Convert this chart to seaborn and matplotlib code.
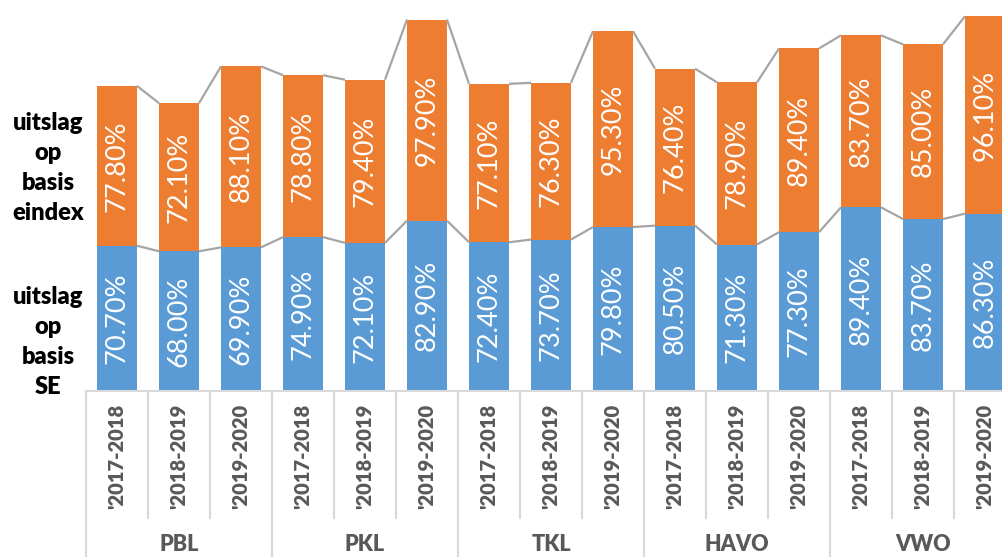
import matplotlib
matplotlib.use("Agg")
import matplotlib.pyplot as plt
from matplotlib.transforms import blended_transform_factory
import seaborn as sns
import pandas as pd

# Exam results per school type and school year (percent)
groups = ["PBL", "PKL", "TKL", "HAVO", "VWO"]
years = ["'2017-2018", "'2018-2019", "'2019-2020"]
se_values = [70.7, 68.0, 69.9,
             74.9, 72.1, 82.9,
             72.4, 73.7, 79.8,
             80.5, 71.3, 77.3,
             89.4, 83.7, 86.3]
eindex_values = [77.8, 72.1, 88.1,
                 78.8, 79.4, 97.9,
                 77.1, 76.3, 95.3,
                 76.4, 78.9, 89.4,
                 83.7, 85.0, 96.1]
series_names = ["uitslag\nop\nbasis\neindex", "uitslag\nop\nbasis\nSE"]

BLUE = "#5B9BD5"
ORANGE = "#ED7D31"
GRID = "#D9D9D9"
TEXT_GRAY = "#595959"
LINE_GRAY = "#A5A5A5"

rows = []
for gi, g in enumerate(groups):
    for yi, y in enumerate(years):
        k = gi * 3 + yi
        rows.append({"key": f"{g} {y}", "group": g, "year": y,
                     "se": se_values[k], "eindex": eindex_values[k],
                     "total": se_values[k] + eindex_values[k]})
df = pd.DataFrame(rows)

sns.set_theme(style="white")
plt.rcParams["font.family"] = ["Lato", "DejaVu Sans"]

W, H = 1002, 557
fig = plt.figure(figsize=(W / 100, H / 100), dpi=100)
ax = fig.add_axes([86 / W, 166 / H, 930 / W, 391 / H])

bar_w = 0.645
order = list(df["key"])
sns.barplot(data=df, x="key", y="total", order=order, color=ORANGE,
            saturation=1, width=bar_w, ax=ax, linewidth=0)
sns.barplot(data=df, x="key", y="se", order=order, color=BLUE,
            saturation=1, width=bar_w, ax=ax, linewidth=0)

ax.set_xlim(-0.5, len(df) - 0.5)
ax.set_ylim(0, 190.3)

# series lines joining the tops of neighbouring bars
for tops in (df["se"].values, df["total"].values):
    for i in range(len(tops) - 1):
        ax.plot([i + bar_w / 2, i + 1 - bar_w / 2], [tops[i], tops[i + 1]],
                color=LINE_GRAY, lw=1.6, zorder=3, solid_capstyle="butt")

# value labels inside each segment
for i, r in df.iterrows():
    ax.text(i, r["se"] / 2, f"{r['se']:.2f}%", rotation=90, ha="center",
            va="center", color="white", fontsize=19.5, zorder=4)
    ax.text(i, r["se"] + r["eindex"] / 2, f"{r['eindex']:.2f}%", rotation=90,
            ha="center", va="center", color="white", fontsize=19.5, zorder=4)

# category axis
ax.set_xticks(range(len(df)))
ax.set_xticklabels(df["year"], rotation=90, color=TEXT_GRAY,
                   fontweight="heavy", fontsize=14.5)
ax.tick_params(axis="x", length=0, pad=9)
ax.set_yticks([])
ax.set_xlabel("")
ax.set_ylabel("")
for s in ("top", "right", "left"):
    ax.spines[s].set_visible(False)
ax.spines["bottom"].set_color(GRID)
ax.spines["bottom"].set_linewidth(1.5)

trans = blended_transform_factory(ax.transData, fig.transFigure)
y_axis = (H - 391) / H
for k in range(len(df) + 1):
    y_end = 0 if k % 3 == 0 else (H - 518) / H
    ax.plot([k - 0.5, k - 0.5], [y_axis, y_end], transform=trans,
            color=GRID, lw=1.6, clip_on=False, zorder=1)

for gi, g in enumerate(groups):
    ax.text(gi * 3 + 1, 2 / H, g, transform=trans, ha="center",
            va="bottom", color=TEXT_GRAY, fontweight="heavy", fontsize=15.5)

# series names shown at the left
fig.text(48 / W, (H - 168) / H, series_names[0], ha="center", va="center",
         fontweight="heavy", fontsize=17, color="black", linespacing=1.45)
fig.text(48 / W, (H - 342) / H, series_names[1], ha="center", va="center",
         fontweight="heavy", fontsize=17, color="black", linespacing=1.45)

fig.savefig("out.png", dpi=100)
